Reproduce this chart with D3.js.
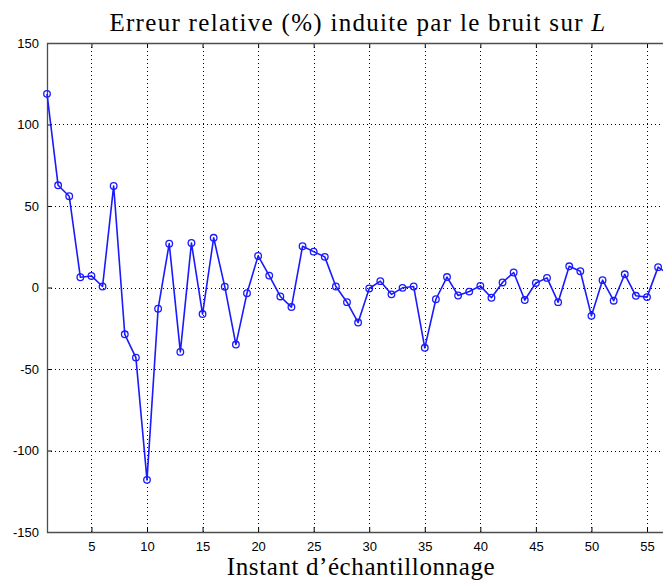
<!DOCTYPE html>
<html>
<head>
<meta charset="utf-8">
<script src="https://cdn.jsdelivr.net/npm/d3@7"></script>
<style>
  html, body { margin: 0; padding: 0; background: #fff; }
  svg { display: block; }
</style>
</head>
<body>
<svg id="chart" width="663" height="580"></svg>
<script>
// Relative error (%) per sampling instant
const errorValues = [
  118.8, 62.7, 56, 6.3, 7.1, 0.6, 62.3, -28.7, -43, -118,
  -13, 26.9, -39.5, 27.3, -16.3, 30.5, 0.5, -35, -3.5, 19.4,
  7.3, -5.5, -12, 25.3, 22, 18.8, 0.6, -9, -21.5, -0.6,
  3.9, -4.2, -0.2, 0.6, -37, -7.2, 6.4, -4.9, -2.5, 1,
  -6.3, 3.1, 9.2, -7.7, 2.8, 5.9, -9, 13, 10, -17.4,
  4.5, -8.1, 8.1, -5.1, -5.9, 12.5, 8
];
const xTicks = [5, 10, 15, 20, 25, 30, 35, 40, 45, 50, 55];
const yTicks = [-150, -100, -50, 0, 50, 100, 150];
const xDomain = [1, 60];
const yDomain = [-150, 150];

const titleText = "Erreur relative (%) induite par le bruit sur ";
const titleVar = "L";
const xLabel = "Instant d\u2019\u00e9chantillonnage";

const svg = d3.select("#chart");
const plotLeft = 47, plotTop = 43, plotBottom = 532;
const x = d3.scaleLinear().domain(xDomain).range([plotLeft, plotLeft + 600 * (xDomain[1] - xDomain[0]) / 54]);
const y = d3.scaleLinear().domain(yDomain).range([plotBottom, plotTop]);
const plotRight = x(xDomain[1]);

const serif = "'Liberation Serif', 'DejaVu Serif', serif";
const sans = "'Liberation Sans', Arial, sans-serif";

// dotted grid
const grid = svg.append("g").attr("stroke", "#000").attr("stroke-width", 1)
  .attr("stroke-dasharray", "1,3").attr("shape-rendering", "crispEdges");
grid.selectAll("line.gx").data(xTicks).join("line").attr("class", "gx")
  .attr("x1", d => Math.round(x(d)) + 0.5).attr("x2", d => Math.round(x(d)) + 0.5)
  .attr("y1", plotTop).attr("y2", plotBottom);
grid.selectAll("line.gy").data(yTicks.slice(1, -1)).join("line").attr("class", "gy")
  .attr("x1", plotLeft).attr("x2", plotRight)
  .attr("y1", d => Math.round(y(d)) + 0.5).attr("y2", d => Math.round(y(d)) + 0.5);

// axes with inward ticks, plain hyphen for negatives
const axisColor = "#4d4d4d";
const fmt = d => String(d);
const xAxisB = d3.axisBottom(x).tickValues(xTicks).tickSize(-5).tickPadding(10).tickFormat(fmt);
const xAxisT = d3.axisTop(x).tickValues(xTicks).tickSize(-5).tickFormat("");
const yAxisL = d3.axisLeft(y).tickValues(yTicks).tickSize(-5).tickPadding(8).tickFormat(fmt);

function style(g) {
  g.select(".domain").remove();
  g.selectAll(".tick line").attr("stroke", "#000");
  g.selectAll(".tick text").attr("fill", "#000").attr("font-family", sans).attr("font-size", 13);
}
svg.append("g").attr("transform", `translate(0,${plotBottom})`).call(xAxisB).call(style);
svg.append("g").attr("transform", `translate(0,${plotTop})`).call(xAxisT).call(style);
svg.append("g").attr("transform", `translate(${plotLeft},0)`).call(yAxisL).call(style);

// frame
svg.append("path")
  .attr("d", `M${plotRight},${plotTop + 0.5}H${plotLeft + 0.5}V${plotBottom + 0.5}H${plotRight}`)
  .attr("fill", "none").attr("stroke", axisColor).attr("stroke-width", 1.3);

// series
const pts = errorValues.map((v, i) => [i + 1, v]);
const line = d3.line().x(d => x(d[0])).y(d => y(d[1]));
svg.append("path").datum(pts)
  .attr("d", line).attr("fill", "none")
  .attr("stroke", "#1a1aff").attr("stroke-width", 1.6).attr("stroke-linejoin", "round");
svg.append("g").selectAll("circle").data(pts).join("circle")
  .attr("cx", d => x(d[0])).attr("cy", d => y(d[1])).attr("r", 3.3)
  .attr("fill", "none").attr("stroke", "#1a1aff").attr("stroke-width", 1.3);

// title and axis label
const t = svg.append("text").attr("x", 358).attr("y", 31).attr("text-anchor", "middle")
  .attr("font-family", serif).attr("font-size", 25).attr("letter-spacing", 1.3).attr("fill", "#000");
t.append("tspan").text(titleText);
t.append("tspan").attr("font-style", "italic").text(titleVar);

svg.append("text").attr("x", 361).attr("y", 575).attr("text-anchor", "middle")
  .attr("font-family", serif).attr("font-size", 25).attr("letter-spacing", 0.6).attr("fill", "#000").text(xLabel);
</script>
</body>
</html>
